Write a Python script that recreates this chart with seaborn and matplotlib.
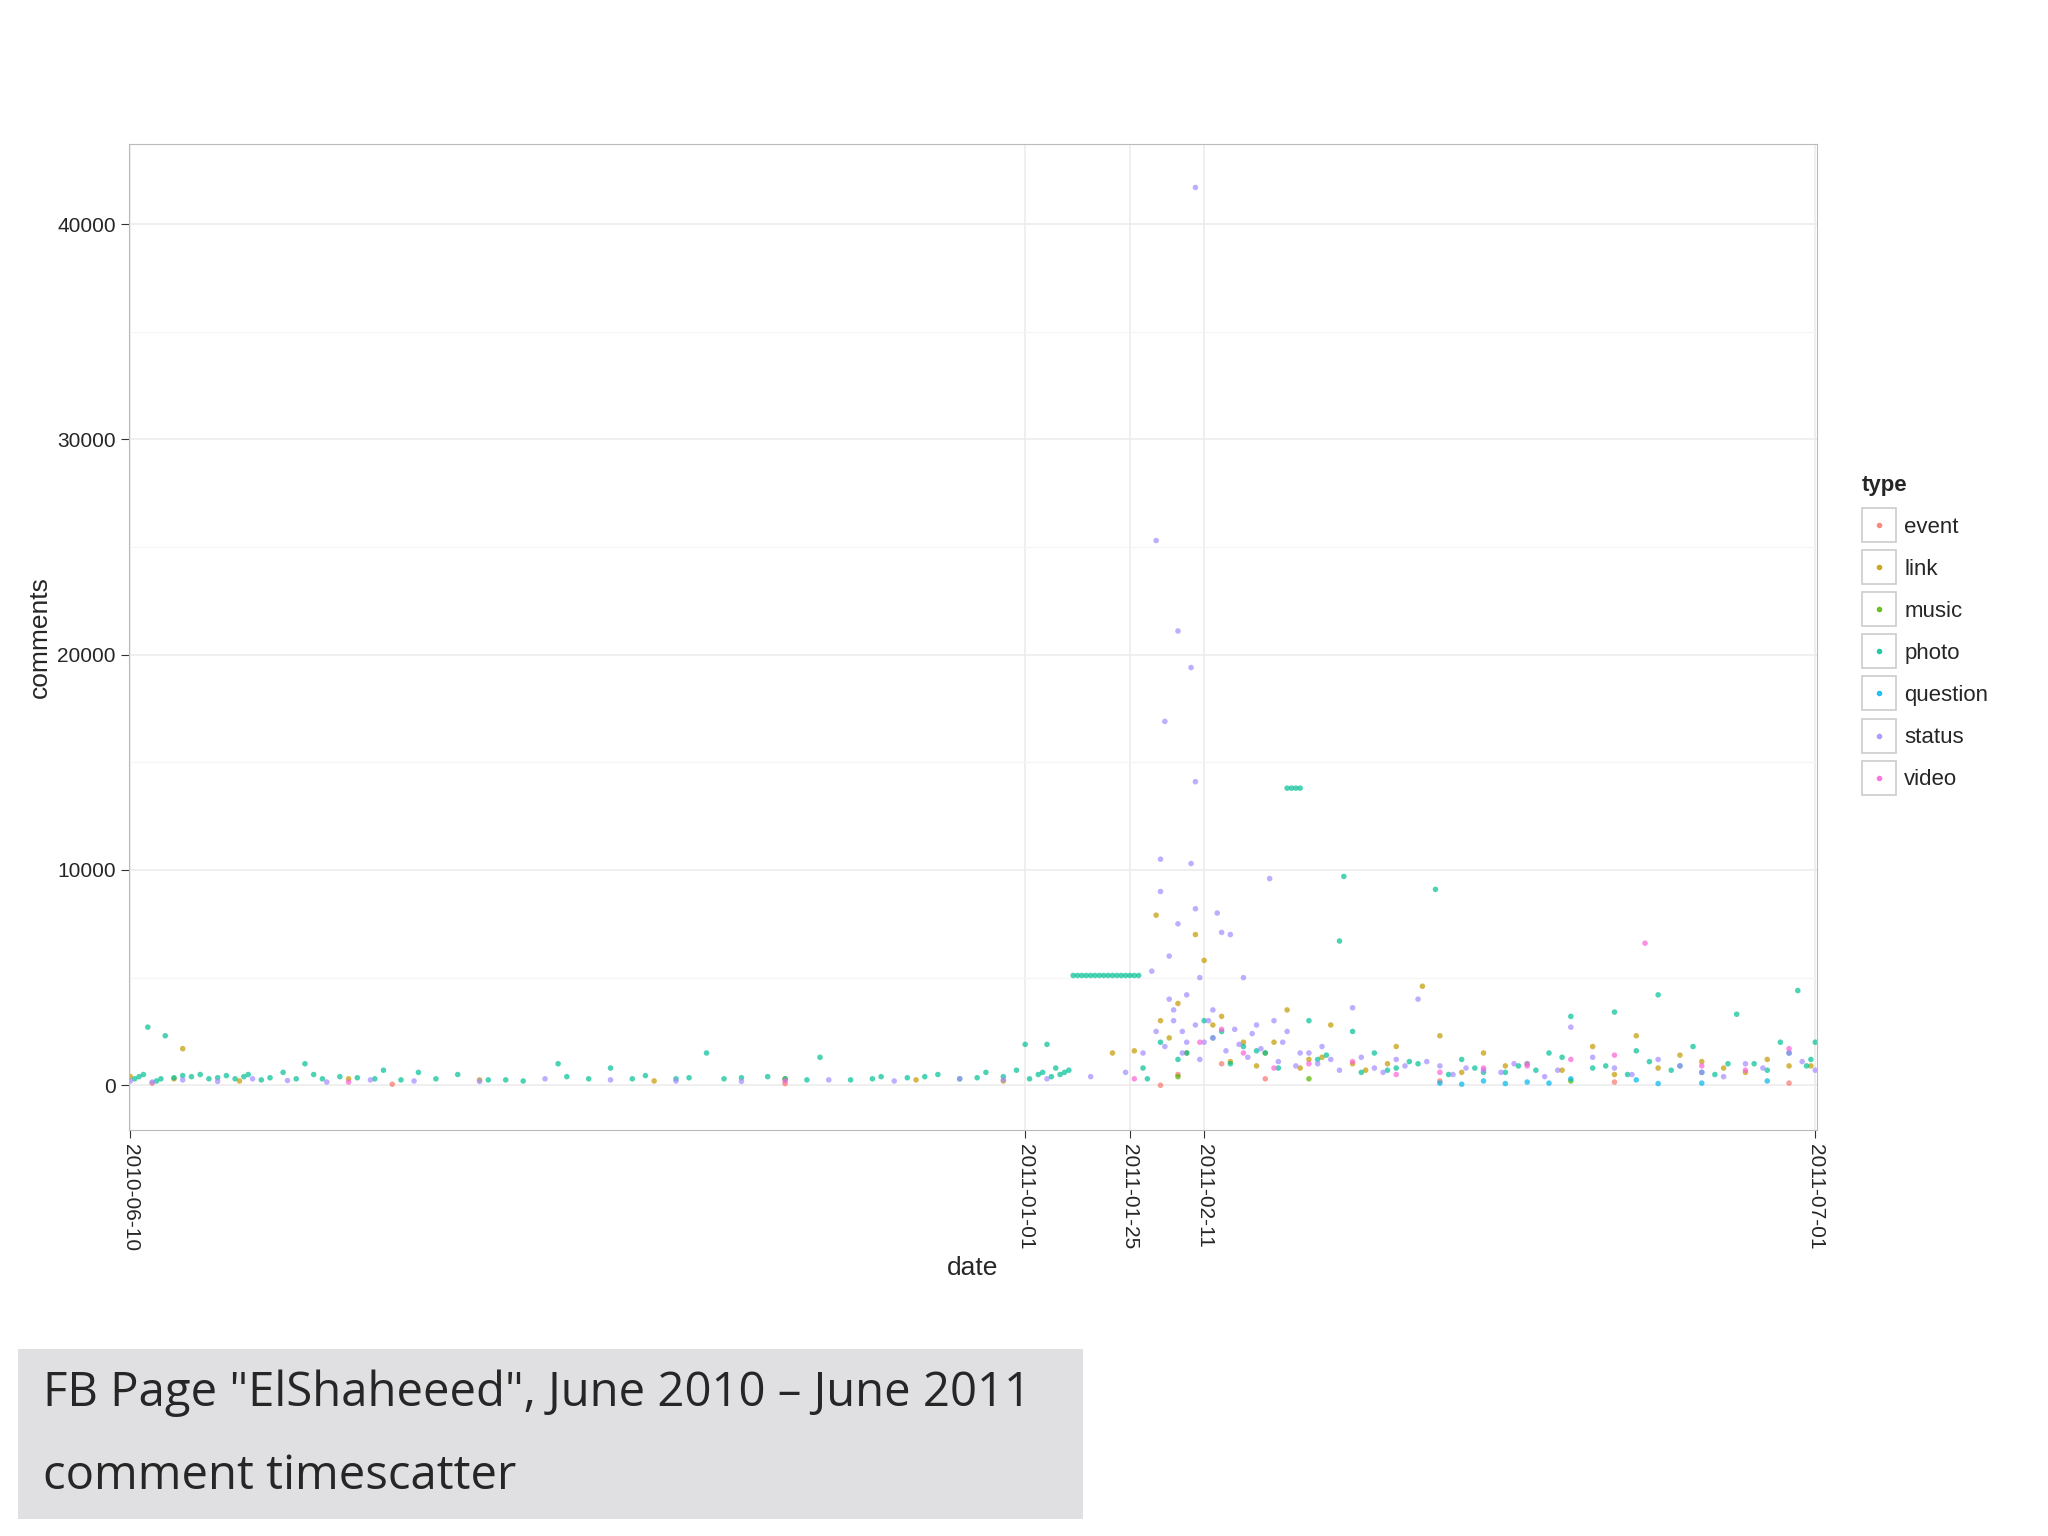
import pandas as pd
import seaborn as sns
import matplotlib.pyplot as plt
from matplotlib.lines import Line2D
from matplotlib.patches import Rectangle
from matplotlib.legend_handler import HandlerTuple

# comments per post: day offset from 2010-06-10, value
photo_days = [1, 3, 4, 6, 8, 10, 14, 18, 22, 27, 30, 35, 40, 44, 48, 52, 58, 62, 70, 75, 82, 90, 98, 105,
              110, 118, 125, 132, 140, 146, 150, 158, 165, 172, 178, 185, 190, 196, 200, 203, 205, 208, 210,
              212, 214, 216, 217, 218, 219, 220, 221, 222, 223, 224, 225, 226, 227, 228, 229, 230, 231,
              233, 236, 240, 246, 250, 255, 260, 265, 266, 267, 268, 270, 272, 277, 278, 280, 285, 290,
              295, 299, 305, 310, 318, 325, 330, 335, 340, 345, 350, 355, 360, 368, 372, 378, 382, 385,
              2, 7, 12, 16, 20, 24, 26, 32, 38, 42, 56, 66, 86, 100, 115, 128, 136, 155, 170, 182, 194,
              206, 209, 211, 213, 215, 232, 242, 248, 252, 258, 263, 274, 282, 288, 293, 302, 308, 315,
              322, 328, 338, 343, 348, 353, 358, 363, 366, 375, 380, 384, 386]
photo_vals = [300, 500, 2700, 200, 2300, 350, 400, 300, 450, 500, 250, 600, 1000, 300, 400, 350, 700, 250,
              300, 500, 250, 200, 1000, 300, 800, 450, 300, 1500, 350, 400, 300, 1300, 250, 400, 350, 500,
              300, 600, 400, 700, 1900, 500, 1900, 800, 600, 5100, 5100, 5100, 5100, 5100, 5100, 5100, 5100,
              5100, 5100, 5100, 5100, 5100, 5100, 5100, 5100, 300, 2000, 1200, 3000, 2500, 1800, 1500,
              13800, 13800, 13800, 13800, 3000, 1200, 6700, 9700, 2500, 1500, 800, 1000, 9100, 1200, 600,
              900, 1500, 3200, 800, 3400, 1600, 4200, 900, 600, 3300, 1000, 2000, 4400, 1200,
              400, 300, 450, 500, 350, 300, 400, 350, 300, 500, 300, 600, 250, 400, 300, 350, 300, 250, 300,
              400, 350, 300, 600, 400, 500, 700, 800, 1500, 2200, 1000, 1600, 800, 1400, 600, 700, 1100,
              500, 800, 600, 700, 1300, 900, 500, 1100, 700, 1800, 500, 1000, 700, 1500, 900, 2000]
status_days = [0, 5, 12, 20, 28, 36, 45, 55, 65, 80, 95, 110, 125, 140, 160, 175, 190, 200, 210, 220, 228,
               232, 234, 235, 236, 236, 237, 238, 238, 239, 240, 240, 241, 242, 243, 243, 244, 244, 244,
               245, 246, 248, 249, 250, 252, 255, 258, 261, 262, 265, 270, 275, 280, 285, 290, 295, 300,
               310, 320, 330, 340, 350, 360, 370, 380, 386,
               235, 237, 239, 241, 242, 244, 245, 247, 248, 251, 253, 254, 256, 257, 259, 263, 264, 267,
               268, 272, 273, 277, 282, 287, 292, 297, 303, 306, 314, 317, 324, 327, 335, 344, 355, 365,
               374, 383]
status_vals = [200, 150, 250, 180, 300, 220, 150, 250, 200, 180, 300, 250, 200, 180, 250, 200, 300, 250,
               300, 400, 600, 1500, 5300, 25300, 10500, 9000, 16900, 6000, 4000, 3000, 21100, 7500, 2500,
               2000, 19400, 10300, 41700, 14100, 8200, 5000, 2000, 3500, 8000, 7100, 7000, 5000, 2800, 9600,
               3000, 2500, 1500, 1200, 3600, 800, 1200, 4000, 900, 700, 1000, 2700, 800, 1200, 600, 1000,
               1500, 700,
               2500, 1800, 3500, 1500, 4200, 2800, 1200, 3000, 2200, 1600, 2600, 1900, 1300, 2400, 1700,
               1100, 2000, 900, 1500, 1000, 1800, 700, 1300, 600, 900, 1100, 500, 800, 600, 1000, 400, 700,
               1300, 500, 900, 400, 800, 1100]
link_days = [0, 10, 12, 25, 50, 80, 120, 150, 180, 200, 225, 230, 235, 236, 240, 244, 246, 250, 255, 260,
             265, 270, 275, 280, 290, 296, 300, 310, 320, 335, 345, 355, 365, 375, 385,
             238, 242, 248, 252, 258, 262, 268, 273, 283, 288, 305, 315, 328, 340, 350, 360, 370, 380]
link_vals = [400, 300, 1700, 200, 300, 250, 200, 300, 250, 200, 1500, 1600, 7900, 3000, 3800, 7000, 5800,
             3200, 2000, 1500, 3500, 1200, 2800, 1000, 1800, 4600, 2300, 1500, 1000, 1800, 2300, 1400, 800,
             1200, 900,
             2200, 1500, 2800, 1100, 900, 2000, 800, 1300, 700, 1000, 600, 900, 700, 500, 800, 1100, 600, 900]
event_days = [5, 60, 150, 236, 240, 250, 260, 300, 340, 380]
event_vals = [100, 50, 80, 0, 500, 1000, 300, 200, 150, 100]
music_days = [240, 270, 330]
music_vals = [400, 300, 200]
question_days = [300, 305, 310, 315, 320, 325, 330, 345, 350, 360, 375]
question_vals = [100, 50, 200, 80, 150, 100, 300, 250, 80, 100, 200]
video_days = [50, 150, 230, 245, 255, 270, 290, 310, 330, 347, 360, 380, 250, 262, 280, 300, 320, 340, 370]
video_vals = [150, 200, 300, 2000, 1500, 1000, 500, 800, 1200, 6600, 900, 1700, 2600, 800, 1100, 600, 900,
              1400, 700]

types = ["event", "link", "music", "photo", "question", "status", "video"]
colors = ["#F8766D", "#C49A00", "#53B400", "#00C094", "#00B6EB", "#A58AFF", "#FB61D7"]
tick_dates = ["2010-06-10", "2011-01-01", "2011-01-25", "2011-02-11", "2011-07-01"]

parts = []
for t, d, v in [("event", event_days, event_vals), ("link", link_days, link_vals),
                ("music", music_days, music_vals), ("photo", photo_days, photo_vals),
                ("question", question_days, question_vals), ("status", status_days, status_vals),
                ("video", video_days, video_vals)]:
    parts.append(pd.DataFrame({"date": pd.Timestamp("2010-06-10") + pd.to_timedelta(d, unit="D"),
                               "comments": v, "type": t}))
df = pd.concat(parts)

sns.set_style("white")
plt.rcParams["font.family"] = ["Liberation Sans", "DejaVu Sans"]
fig = plt.figure(figsize=(20.48, 15.36), dpi=100)
ax = fig.add_axes([0.063, 0.264, 0.824, 0.642])

sns.scatterplot(data=df, x="date", y="comments", hue="type", hue_order=types,
                palette=dict(zip(types, colors)), s=16, alpha=0.7, linewidth=0, ax=ax, legend=False)

ax.set_xlim(pd.Timestamp("2010-06-10") - pd.Timedelta(days=0.3), pd.Timestamp("2011-07-01") + pd.Timedelta(days=0.3))
ax.set_ylim(-2100, 43700)
ax.set_yticks([0, 10000, 20000, 30000, 40000])
ax.set_yticks([5000, 15000, 25000, 35000], minor=True)
ax.set_xticks([pd.Timestamp(d) for d in tick_dates])
ax.set_xticklabels(tick_dates, rotation=270, fontsize=15)
ax.tick_params(axis="y", labelsize=15)
ax.tick_params(axis="both", which="major", length=6, color="#333333", direction="out", bottom=True, left=True)
ax.grid(True, which="major", color="#ececec", linewidth=1.2)
ax.grid(True, which="minor", axis="y", color="#f5f5f5", linewidth=0.8)
ax.set_axisbelow(True)
for s in ax.spines.values():
    s.set_color("#bbbbbb")
ax.set_xlabel("date", fontsize=19)
ax.set_ylabel("comments", fontsize=19)

handles = [(Line2D([], [], marker="s", linestyle="", markersize=24, markerfacecolor="white",
                   markeredgecolor="#cccccc", markeredgewidth=1.2),
            Line2D([], [], marker="o", linestyle="", markersize=3, color=c, alpha=0.8)) for c in colors]
leg = ax.legend(handles, types, title="type", loc="center left", bbox_to_anchor=(1.015, 0.505),
                frameon=False, fontsize=16, title_fontproperties={"weight": "bold", "size": 16},
                handler_map={tuple: HandlerTuple(ndivide=1, pad=0)}, numpoints=1,
                handlelength=1.5, handletextpad=0.4, labelspacing=0.95, alignment="left")

# caption box
fig.patches.append(Rectangle((0.009, 0.011), 0.52, 0.111, transform=fig.transFigure,
                             facecolor="#e0e0e2", edgecolor="none"))
fig.text(0.021, 0.093, 'FB Page "ElShaheeed", June 2010 \u2013 June 2011', fontsize=34, family="Open Sans", va="center")
fig.text(0.021, 0.039, "comment timescatter", fontsize=34, family="Open Sans", va="center")

fig.savefig("out.png", dpi=100)
